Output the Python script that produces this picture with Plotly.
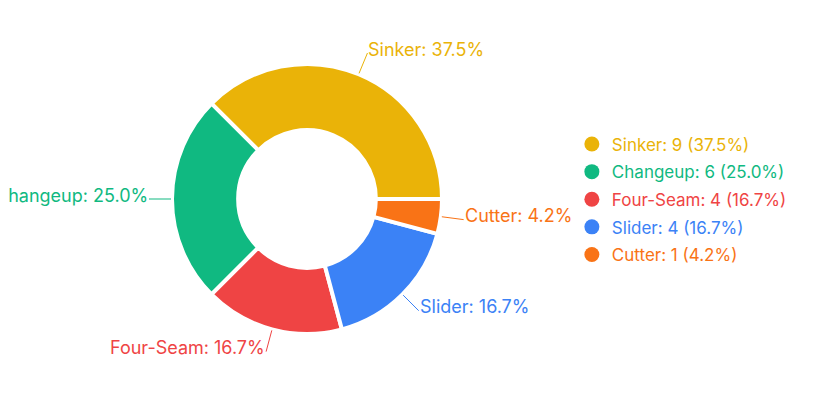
import math
import plotly.graph_objects as go

pitches = ["Sinker", "Changeup", "Four-Seam", "Slider", "Cutter"]
counts = [9, 6, 4, 4, 1]
colors = ["#eab308", "#10b981", "#ef4444", "#3b82f6", "#f97316"]

W, H = 828, 402
CX, CY, R = 299, 191, 135          # pie centre / outer radius in px (figure coords)
HOLE = 0.51
LINE_IN, LINE_OUT = 136, 158        # leader line radii
FONT = "Inter, 'Open Sans', sans-serif"

total = sum(counts)
pcts = [c / total * 100 for c in counts]

fig = go.Figure()
fig.add_trace(go.Pie(
    labels=pitches,
    values=counts,
    sort=False,
    direction="counterclockwise",
    rotation=-45,
    hole=HOLE,
    marker=dict(colors=colors, line=dict(color="white", width=4)),
    textinfo="none",
    showlegend=False,
    hoverinfo="label+value+percent",
    domain=dict(x=[(CX - R) / W, (CX + R) / W],
                y=[1 - (CY + R) / H, 1 - (CY - R) / H]),
))

# outside labels with leader lines, placed at each slice's mid angle
cum = 0.0
for p, c, pc, col in zip(pitches, counts, pcts, colors):
    mid = (cum + c / 2) / total * 2 * math.pi   # counterclockwise from 3 o'clock
    cum += c
    cs, sn = math.cos(mid), math.sin(mid)
    hx, hy = CX + LINE_IN * cs, CY - LINE_IN * sn
    tx, ty = CX + LINE_OUT * cs, CY - LINE_OUT * sn
    right = cs >= 0
    fig.add_shape(
        type="line", xref="paper", yref="paper",
        x0=hx / W, y0=1 - hy / H, x1=tx / W, y1=1 - ty / H,
        line=dict(color=col, width=1),
    )
    fig.add_annotation(
        x=tx / W, y=1 - ty / H, xref="paper", yref="paper",
        text=f"{p}: {pc:.1f}%",
        font=dict(color=col, size=18, family=FONT),
        showarrow=False,
        xanchor="left" if right else "right", yanchor="middle",
        xshift=1 if right else -1, yshift=4,
        borderpad=0, borderwidth=0,
    )

for i, (p, c, pc, col) in enumerate(zip(pitches, counts, pcts, colors)):
    fig.add_trace(go.Scatter(
        x=[None], y=[None], mode="markers",
        marker=dict(color=col, size=15, symbol="circle"),
        name=f"<span style='color:{col}'>{p}: {c} ({pc:.1f}%)</span>",
        legendgroup=f"g{i}",
        showlegend=True,
    ))

fig.update_layout(
    width=W, height=H,
    margin=dict(l=0, r=0, t=0, b=0),
    paper_bgcolor="white", plot_bgcolor="white",
    xaxis=dict(visible=False), yaxis=dict(visible=False),
    font=dict(family=FONT, size=17),
    legend=dict(x=0.681, y=0.5236, xanchor="left", yanchor="middle",
                font=dict(size=17, family=FONT), tracegroupgap=2.5,
                bgcolor="rgba(0,0,0,0)"),
)
fig.write_html("out.html")
